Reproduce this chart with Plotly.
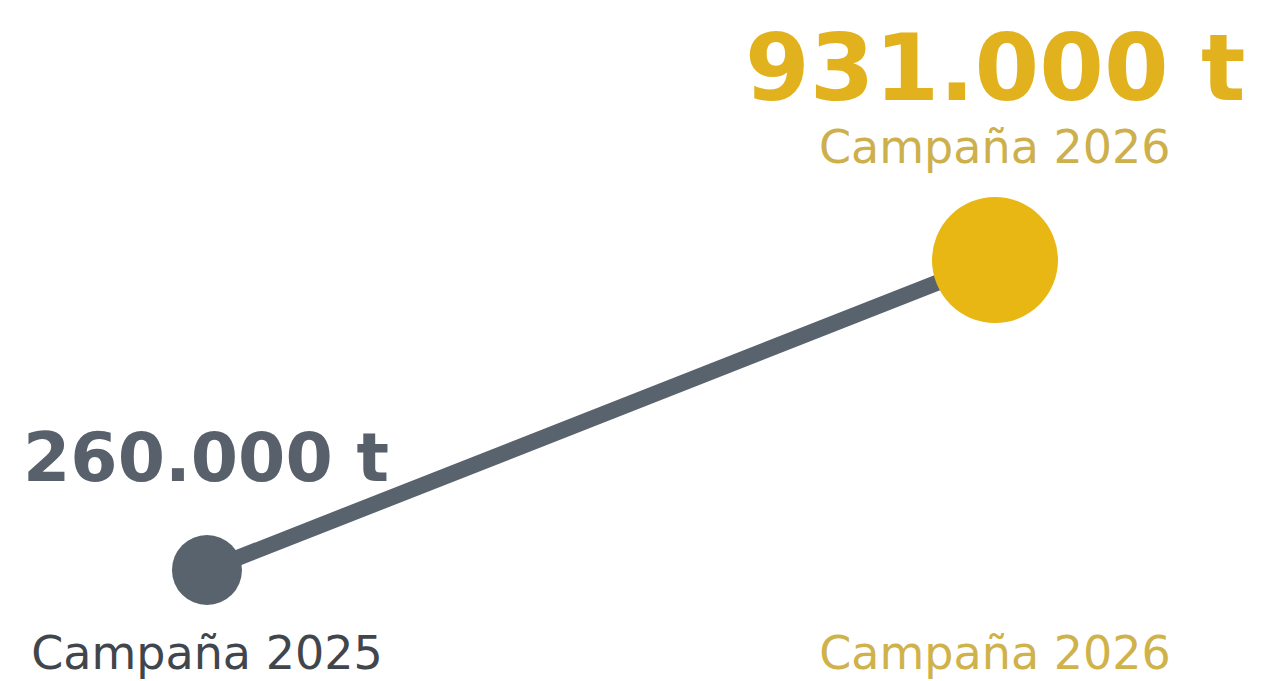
import plotly.graph_objects as go

campaigns = ["Campaña 2025", "Campaña 2026"]
tonnes = [260000, 931000]
colors = ["#59636e", "#e8b714"]
value_colors = ["#58616b", "#e2b21e"]
tick_colors = ["#41464c", "#cfb24a"]
marker_sizes = [70, 126]


def fmt(v):
    return f"{v:,}".replace(",", ".") + " t"


xpos = list(range(len(campaigns)))

fig = go.Figure()
fig.add_trace(go.Scatter(
    x=xpos, y=tonnes, mode="lines",
    line=dict(color="#59636e", width=16),
    hoverinfo="skip", showlegend=False,
))
fig.add_trace(go.Scatter(
    x=xpos, y=tonnes, mode="markers",
    marker=dict(size=marker_sizes, color=colors, line=dict(width=0), opacity=1),
    showlegend=False,
))

FONT = "'DejaVu Sans', sans-serif"

# value labels
fig.add_annotation(x=xpos[0], y=tonnes[0], text=f"<b>{fmt(tonnes[0])}</b>",
                   showarrow=False, yshift=113, xshift=-1,
                   font=dict(size=68, color=value_colors[0], family=FONT))
fig.add_annotation(x=xpos[1], y=tonnes[1], text=f"<b>{fmt(tonnes[1])}</b>",
                   showarrow=False, yshift=192,
                   font=dict(size=93, color=value_colors[1], family=FONT))
fig.add_annotation(x=xpos[1], y=tonnes[1], text=campaigns[1],
                   showarrow=False, yshift=113,
                   font=dict(size=46, color="#cdb04c", family=FONT))

ticktext = [f"<span style='color:{c}'>{t}</span>" for t, c in zip(campaigns, tick_colors)]

fig.update_layout(
    width=1265, height=681,
    margin=dict(l=0, r=0, t=0, b=67),
    paper_bgcolor="white", plot_bgcolor="white",
    xaxis=dict(range=[-0.2525, 1.3528], tickvals=xpos, ticktext=ticktext,
               showgrid=False, zeroline=False, showline=False, ticks="",
               tickfont=dict(size=46, family=FONT), fixedrange=True),
    yaxis=dict(range=[147445, 1476458], visible=False, showgrid=False,
               zeroline=False, fixedrange=True),
)

fig.write_html("out.html")
